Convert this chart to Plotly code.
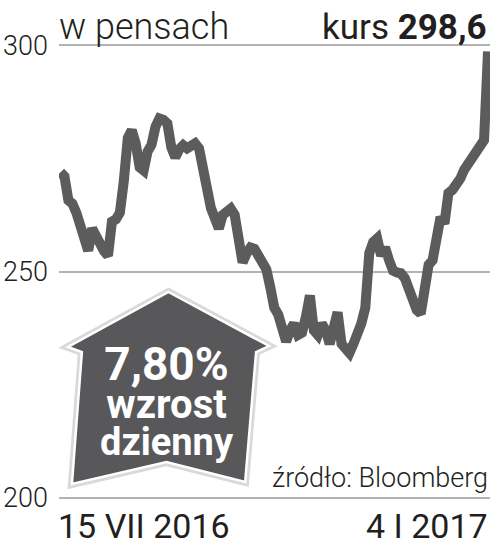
import plotly.graph_objects as go

# ---- data ----
prices = [
    271.9, 271, 265.7, 265, 263, 260, 256.5, 254.6, 259.5, 257.5, 255.5, 254.5, 253.5, 261, 261.5, 263,
    270, 279.5, 281.2, 278.3, 273, 272.3, 276.5, 278, 282, 283.8, 283.5, 282.7, 277.4, 275.2, 277, 277.9,
    277.2, 277.8, 278.3, 277.2, 271, 268.4, 264, 261.5, 259.5, 262.5, 263.5, 263.9, 262.5, 257, 252, 254,
    255.3, 255, 253.1, 251.5, 250.5, 246.5,
    242, 240.5, 237, 234.5, 237, 238.5, 236, 236.5, 240, 244.7, 237, 236, 238.5, 237, 234, 237, 241, 234,
    232.5, 232, 234, 236, 238.5, 242, 254, 256.5,
    257.3, 253.5, 255.3, 252.5, 250.2, 249.8, 249.6, 248.5, 246, 244, 241.5, 240.7, 248, 251.5, 252.5, 258,
    262, 260.6, 267.3, 268, 269, 270.5, 272.5, 274, 275, 277, 277.5, 279, 298.6,
]
y_ticks = [200, 250, 300]
y_tick_labels = ["200", "250", "300"]
date_labels = ["15 VII 2016", "4 I 2017"]
unit_label = "w pensach"
last_label = "kurs <b>298,6</b>"
change_label = ["7,80%", "wzrost", "dzienny"]
source_label = "źródło: Bloomberg"

W, H = 493, 549
L, R, T, B = 57, 3, 36, 42
PW, PH = W - L - R, H - T - B


def px(x):
    return (x - L) / PW


def py(y):
    return (H - B - y) / PH


n = len(prices)
idx = list(range(n))
step = (488 - 58.5) / (n - 1)
x_range = [-(58.5 - L) / step, (n - 1) + (L + PW - 488) / step]

DARK = "#231f20"
LINE = "#5c5c5c"

fig = go.Figure()
fig.add_trace(go.Scatter(x=idx, y=prices, mode="lines",
                         line=dict(color=LINE, width=10), hoverinfo="skip"))

# arrow badge (decoration) in pixel positions
arrow_px = [(167, 292), (268, 346), (255, 352), (244, 482), (165, 462), (70, 484), (80, 352), (66, 347)]
path = "M " + " L ".join(f"{px(a):.4f},{py(b):.4f}" for a, b in arrow_px) + " Z"
shapes = [
    dict(type="path", xref="paper", yref="paper", path=path, fillcolor="rgba(0,0,0,0)",
         line=dict(color="rgba(0,0,0,0.15)", width=8), layer="above"),
    dict(type="path", xref="paper", yref="paper", path=path, fillcolor="#58585a",
         line=dict(color="white", width=2.5), layer="above"),
]

FONT = "Roboto"
badge_text = (
    f"<span style='font-size:46px'><b>{change_label[0]}</b></span><br>"
    f"<span style='font-size:40px'><b>{change_label[1]}</b></span><br>"
    f"<span style='font-size:38px'><b>{change_label[2]}</b></span>"
)
ann = []
ann.append(dict(text=unit_label, x=px(55), y=py(27), xanchor="left", yanchor="middle",
                font=dict(family=FONT, size=36, weight=300, color=DARK)))
ann.append(dict(text=last_label, x=px(489), y=py(27), xanchor="right", yanchor="middle",
                font=dict(family=FONT, size=35, color=DARK)))
ann.append(dict(text=date_labels[0], x=px(54), y=py(526), xanchor="left", yanchor="middle",
                font=dict(family=FONT, size=34, color=DARK)))
ann.append(dict(text=date_labels[1], x=px(490), y=py(526), xanchor="right", yanchor="middle",
                font=dict(family=FONT, size=34, color=DARK)))
ann.append(dict(text=source_label, x=px(490), y=py(478), xanchor="right", yanchor="middle",
                font=dict(family=FONT, size=27, weight=300, color=DARK)))
ann.append(dict(text=badge_text, x=px(165), y=py(400), xanchor="center", yanchor="middle",
                align="center", font=dict(family=FONT, size=29, color="white")))
for a in ann:
    a.update(xref="paper", yref="paper", showarrow=False)

fig.update_layout(
    width=W, height=H, margin=dict(l=L, r=R, t=T, b=B),
    paper_bgcolor="white", plot_bgcolor="white", showlegend=False,
    xaxis=dict(range=x_range, visible=False, fixedrange=True),
    yaxis=dict(range=[198, 302], tickvals=y_ticks, ticktext=y_tick_labels, showgrid=True,
               gridcolor="#b3b3b3", gridwidth=2, zeroline=False, showline=False, ticks="",
               ticklabelstandoff=10,
               tickfont=dict(family=FONT, size=27, weight=300, color=DARK), fixedrange=True),
    shapes=shapes, annotations=ann,
)
fig.write_html("out.html", config={"displayModeBar": False},
               post_script="document.body.style.margin='0';document.body.style.overflow='hidden';")
